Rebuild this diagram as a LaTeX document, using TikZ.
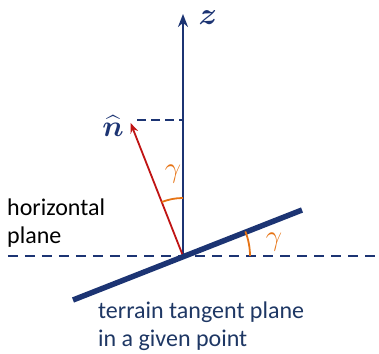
\RequirePackage{fix-cm}
\documentclass[tikz,border=0pt]{standalone}
\usepackage{amsmath}
\usepackage{fontspec}
\setmainfont{Carlito}
\usetikzlibrary{arrows.meta}
\definecolor{navy}{RGB}{28,52,115}
\definecolor{darkred}{RGB}{192,20,20}
\definecolor{gammaorange}{RGB}{230,115,20}
\definecolor{textblue}{RGB}{30,55,100}
\begin{document}
\begin{tikzpicture}[
        x=1pt,y=1pt,
        >={Stealth[length=13pt,width=10pt]},
        axis/.style={navy,line width=2.2pt},
        normal/.style={darkred,line width=1.8pt},
        hdash/.style={navy,line width=2pt,dash pattern=on 10pt off 7pt},
        ndash/.style={navy,line width=1.3pt,dash pattern=on 9pt off 5pt},
        gangle/.style={gammaorange,line width=1.8pt},
        glabel/.style={gammaorange,font=\fontsize{29}{32}\selectfont},
        plain/.style={font=\fontsize{24}{28}\selectfont,align=left,inner sep=0pt},
        ]
        \useasboundingbox (-183,-97) rectangle (196,256);
        % points
        \coordinate (O) at (0,0);
        \coordinate (Z) at (0,242);
        \coordinate (N) at (111.5:143);
        \coordinate (Ndash) at (-46,136);
        \coordinate (Nz) at (0,136);
        \coordinate (Hl) at (-175,0);
        \coordinate (Hr) at (196,0);
        \coordinate (Tl) at (-110,-44);
        \coordinate (Tr) at (119,46);
        % horizontal plane
        \draw[hdash] (Hl) -- (Hr);
        % z axis and normal
        \draw[axis,->] (O) -- (Z);
        \draw[ndash] (Ndash) -- (Nz);
        \draw[normal,->,>={Stealth[length=10pt,width=8pt]}] (O) -- (N);
        % tangent plane
        \draw[navy,line width=5.5pt] (Tl) -- (Tr);
        % angles
        \draw[gangle] (90:58) arc (90:111.5:58);
        \draw[gangle] (0:67) arc (0:21.5:67);
        \node[glabel] (g1) at (-10,82) {$\gamma$};
        \node[glabel] (g2) at (91,14) {$\gamma$};
        % labels
        \node[navy,font=\fontsize{31}{34}\selectfont] (zl) at (25,238) {$\boldsymbol{z}$};
        \node[navy,font=\fontsize{30}{34}\selectfont,inner sep=0pt] (nl) at (-70,130) {$\widehat{\boldsymbol{n}}$};
        \node[plain,anchor=north west] (hp) at (-176,57) {horizontal\\plane};
        \node[plain,textblue,anchor=north west] (tp) at (-85,-46) {terrain tangent plane\\in a given point};
\end{tikzpicture}
\end{document}
